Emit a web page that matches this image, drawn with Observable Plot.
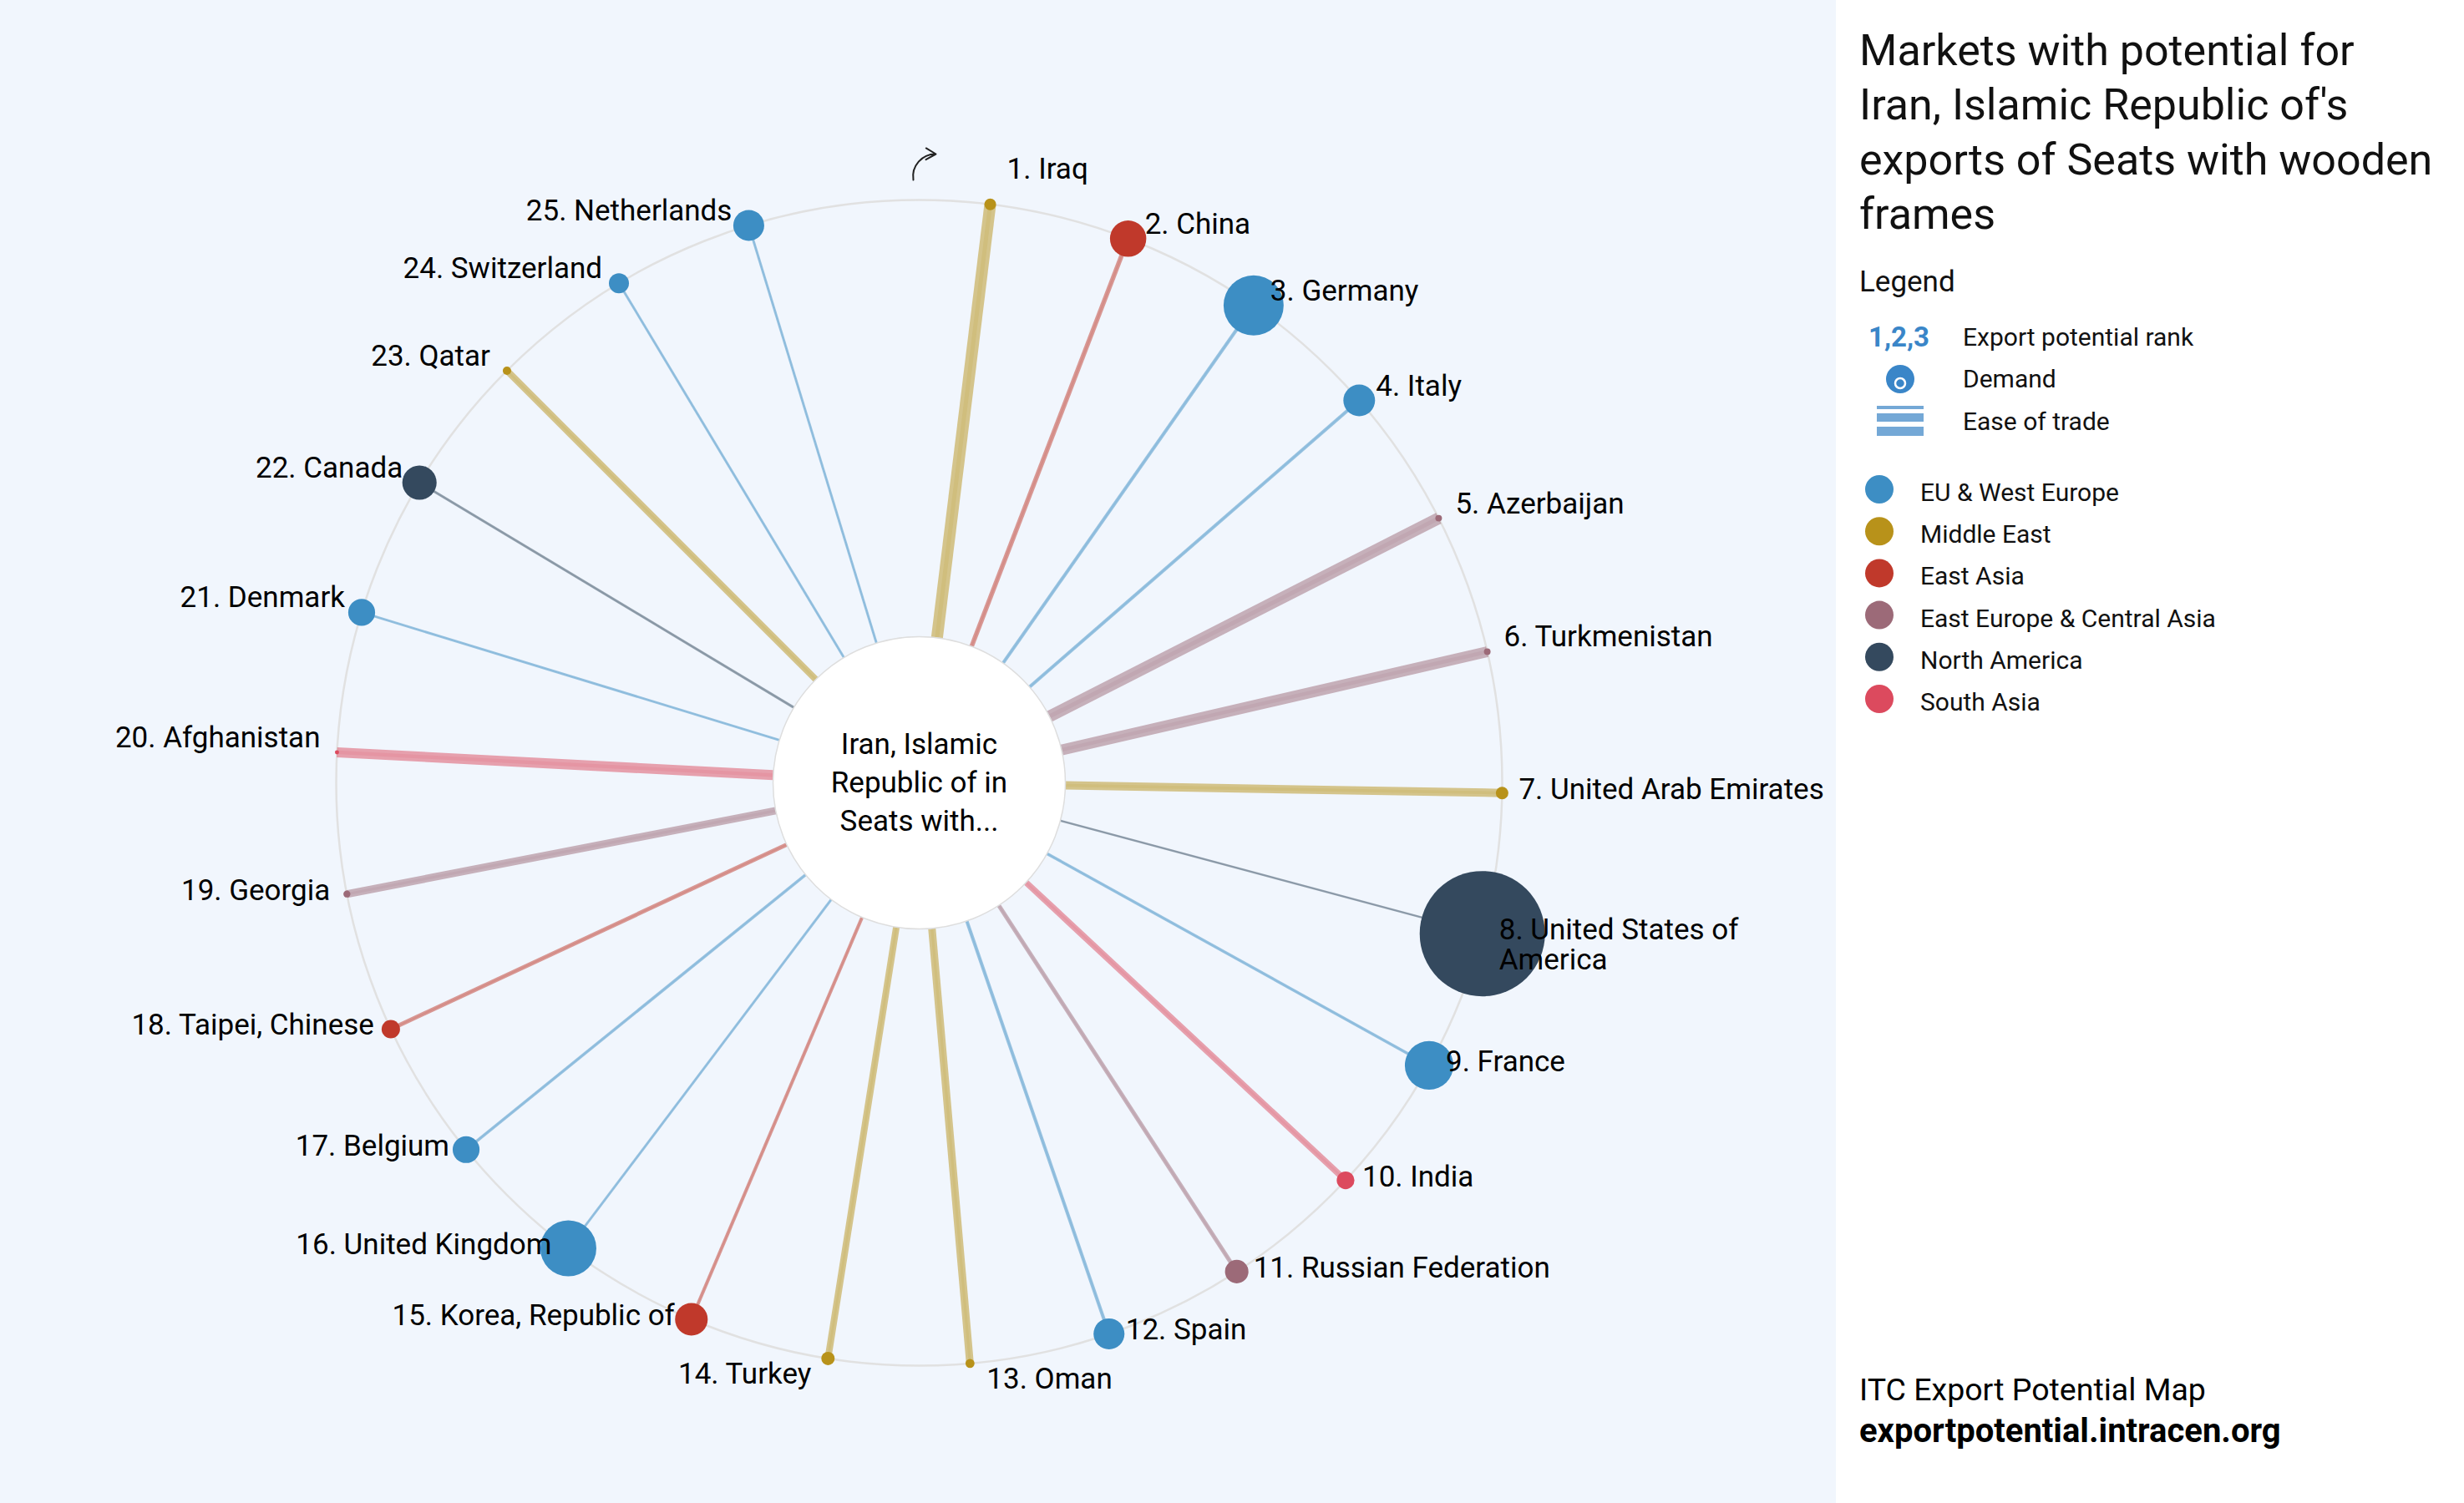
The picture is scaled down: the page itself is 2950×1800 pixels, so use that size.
<!DOCTYPE html>
<html>
<head>
<meta charset="utf-8">
<script src="https://cdn.jsdelivr.net/npm/d3@7"></script>
<script src="https://cdn.jsdelivr.net/npm/@observablehq/plot@0.6"></script>
<style>
  html, body { margin: 0; padding: 0; }
  body { width: 2950px; height: 1800px; overflow: hidden; background: #ffffff; position: relative; font-family: Roboto, "Noto Sans", sans-serif; }
  #chart { position: absolute; left: 0; top: 0; width: 2198px; height: 1800px; background: #f1f6fd; }
  #side { position: absolute; left: 2198px; top: 0; width: 752px; height: 1800px; }
  #chart svg, #side svg { display: block; }
</style>
</head>
<body>
<div id="chart"></div>
<div id="side"></div>
<script>
// ---------------- DATA ----------------
const countries = ["Iraq", "China", "Germany", "Italy", "Azerbaijan", "Turkmenistan",
  "United Arab Emirates", "United States of America", "France", "India", "Russian Federation",
  "Spain", "Oman", "Turkey", "Korea, Republic of", "United Kingdom", "Belgium",
  "Taipei, Chinese", "Georgia", "Afghanistan", "Denmark", "Canada", "Qatar", "Switzerland", "Netherlands"];
const countryRegions = ["Middle East", "East Asia", "EU & West Europe", "EU & West Europe",
  "East Europe & Central Asia", "East Europe & Central Asia", "Middle East", "North America",
  "EU & West Europe", "South Asia", "East Europe & Central Asia", "EU & West Europe", "Middle East",
  "Middle East", "East Asia", "EU & West Europe", "EU & West Europe", "East Asia",
  "East Europe & Central Asia", "South Asia", "EU & West Europe", "North America", "Middle East",
  "EU & West Europe", "EU & West Europe"];
// Demand (relative, USA = 100)
const demand = [0.87, 8.4, 23, 6.4, 0.28, 0.28, 1.0, 100, 15, 2.0, 3.5, 6.1, 0.52, 1.14,
  6.8, 20, 4.6, 2.15, 0.31, 0.11, 4.6, 7.5, 0.44, 2.56, 6.1];
// Ease of trade (relative score 0-100)
const easeOfTrade = [93, 30, 19, 19, 93, 85, 63, 7, 15, 44, 26, 19, 56, 48, 19, 11, 15, 26,
  56, 78, 11, 11, 48, 11, 11];
const regionNames = ["EU & West Europe", "Middle East", "East Asia", "East Europe & Central Asia", "North America", "South Asia"];
const regionColors = ["#3d8ec4", "#b8921a", "#c0392b", "#9c6a78", "#34495e", "#dc4a5e"];
const centerLabel = "Iran, Islamic\nRepublic of in\nSeats with...";
const titleLines = ["Markets with potential for", "Iran, Islamic Republic of's", "exports of Seats with wooden", "frames"];
const legendTitle = "Legend";
const legendItems = ["Export potential rank", "Demand", "Ease of trade"];
const rankSample = "1,2,3";
const footerLines = ["ITC Export Potential Map", "exportpotential.intracen.org"];

// ---------------- LAYOUT ----------------
const W = 2198, H = 1800, CX = 1100, CY = 937, R_OUT = 698, R_IN = 175;
const FS = 35, LH = 1.02;

const angle = d3.scaleBand().domain(countries).range([0, 350]);
const widthScale = d3.scaleLinear([0, 100], [1.5, 15]);

const data = countries.map((name, i) => {
  const a = (angle(name) + angle.bandwidth() / 2) * Math.PI / 180;
  return {rank: i + 1, name, region: countryRegions[i], demand: demand[i], ease: easeOfTrade[i],
          sin: Math.sin(a), cos: Math.cos(a), label: `${i + 1}. ${name}`};
});

// baseline offset (px, downward) of a label relative to its point
function baseOff(d) {
  if (Math.abs(d.sin) < 0.2) return d.cos > 0 ? -31 : 30;
  return d.cos > 0 ? -6 : 7;
}
const topShift = 0.71 * LH * FS;
const labelY = d => R_OUT * d.cos - (baseOff(d) - topShift);

const right = data.filter(d => d.sin >= 0);
const left = data.filter(d => d.sin < 0);

const chart = Plot.plot({
  width: W, height: H, margin: 0,
  x: {domain: [-CX, W - CX], axis: null},
  y: {domain: [CY - H, CY], axis: null},
  r: {type: "sqrt", domain: [0, 100], range: [0, 75]},
  color: {domain: regionNames, range: regionColors},
  style: {background: "transparent", fontFamily: "Roboto, sans-serif", overflow: "visible"},
  marks: [
    Plot.dot([[0, 0]], {r: R_OUT, fill: "none", stroke: "#e1e1e1", strokeWidth: 2.5}),
    Plot.link(data, {x1: d => R_IN * d.sin, y1: d => R_IN * d.cos, x2: d => R_OUT * d.sin, y2: d => R_OUT * d.cos,
      stroke: "region", strokeOpacity: 0.5, strokeWidth: d => widthScale(d.ease)}),
    Plot.link(data, {x1: d => R_IN * d.sin, y1: d => R_IN * d.cos, x2: d => R_OUT * d.sin, y2: d => R_OUT * d.cos,
      stroke: "region", strokeOpacity: 0.12, strokeWidth: d => widthScale(d.ease) * 0.35}),
    Plot.dot([[0, 0]], {r: R_IN, fill: "#ffffff", stroke: "#dedede", strokeWidth: 1.5}),
    Plot.dot(data, {x: d => R_OUT * d.sin, y: d => R_OUT * d.cos, r: "demand", fill: "region"}),
    Plot.text(right, {x: d => R_OUT * d.sin, y: labelY, text: "label", textAnchor: "start", dx: 20,
      lineAnchor: "top", lineHeight: LH, lineWidth: 12.5, fontSize: FS, fill: "#000"}),
    Plot.text(left, {x: d => R_OUT * d.sin, y: labelY, text: "label", textAnchor: "end", dx: -20,
      lineAnchor: "top", lineHeight: LH, lineWidth: 12.5, fontSize: FS, fill: "#000"}),
    Plot.text([[0, 0]], {text: [centerLabel], lineAnchor: "middle", lineHeight: 1.32, fontSize: 35, dy: -3, fill: "#000"}),
    Plot.arrow([[0, 0]], {x1: () => -7, y1: () => R_OUT + 24, x2: () => 20, y2: () => R_OUT + 55,
      bend: 50, stroke: "#222", strokeWidth: 2, headLength: 12, inset: 0})
  ]
});
document.getElementById("chart").appendChild(chart);

// ---------------- SIDE PANEL ----------------
const side = d3.select("#side").append("svg").attr("width", 752).attr("height", 1800)
  .style("font-family", "Roboto, sans-serif");
side.selectAll("text.title").data(titleLines).join("text")
  .attr("x", 28).attr("y", (d, i) => 78 + i * 65.3)
  .attr("font-size", 52).attr("fill", "#111").text(d => d);
side.append("text").attr("x", 28).attr("y", 349).attr("font-size", 35).attr("fill", "#111").text(legendTitle);
side.append("text").attr("x", 39).attr("y", 415).attr("font-size", 33).attr("font-weight", 700)
  .attr("fill", "#3a86c8").text(rankSample);
side.selectAll("text.li").data(legendItems).join("text")
  .attr("x", 152).attr("y", (d, i) => [414, 464, 515][i])
  .attr("font-size", 30).attr("fill", "#111").text(d => d);
side.append("circle").attr("cx", 77).attr("cy", 454).attr("r", 17).attr("fill", "#3a86c8");
side.append("circle").attr("cx", 77).attr("cy", 459).attr("r", 6).attr("fill", "none")
  .attr("stroke", "#fff").attr("stroke-width", 2.5);
[[486, 4], [495, 10], [511, 11]].forEach(([y, h]) => {
  side.append("rect").attr("x", 49).attr("y", y).attr("width", 56).attr("height", h).attr("fill", "#74a8d6");
});
const reg = side.selectAll("g.reg").data(regionNames).join("g")
  .attr("transform", (d, i) => `translate(0,${586 + i * 50.2})`);
reg.append("circle").attr("cx", 52).attr("r", 17).attr("fill", (d, i) => regionColors[i]);
reg.append("text").attr("x", 101).attr("y", 14).attr("font-size", 30).attr("fill", "#111").text(d => d);
side.append("text").attr("x", 28).attr("y", 1677).attr("font-size", 37.5).attr("fill", "#000").text(footerLines[0]);
side.append("text").attr("x", 28).attr("y", 1727).attr("font-size", 40).attr("font-weight", 700)
  .attr("fill", "#000").text(footerLines[1]);
</script>
</body>
</html>
